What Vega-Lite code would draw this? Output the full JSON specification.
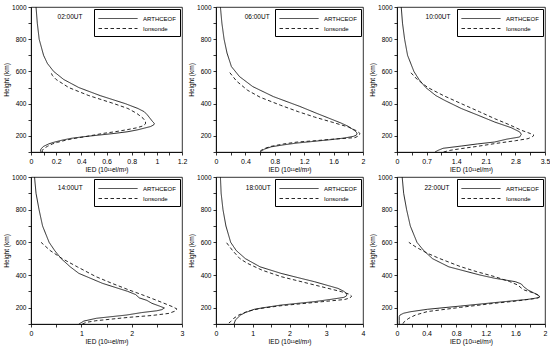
{
  "$schema": "https://vega.github.io/schema/vega-lite/v6.json",
  "padding": {"left": 3, "top": 3, "right": 3, "bottom": 2},
  "background": "white",
  "datasets": {
    "profiles": [
      {"p":1,"s":"ARTHCEOF","h":1000,"v":0.04},{"p":1,"s":"ARTHCEOF","h":900,"v":0.05},{"p":1,"s":"ARTHCEOF","h":800,"v":0.065},{"p":1,"s":"ARTHCEOF","h":700,"v":0.10},{"p":1,"s":"ARTHCEOF","h":650,"v":0.13},{"p":1,"s":"ARTHCEOF","h":600,"v":0.18},{"p":1,"s":"ARTHCEOF","h":550,"v":0.26},{"p":1,"s":"ARTHCEOF","h":500,"v":0.38},{"p":1,"s":"ARTHCEOF","h":450,"v":0.55},{"p":1,"s":"ARTHCEOF","h":400,"v":0.75},{"p":1,"s":"ARTHCEOF","h":370,"v":0.85},{"p":1,"s":"ARTHCEOF","h":350,"v":0.9},{"p":1,"s":"ARTHCEOF","h":330,"v":0.925},{"p":1,"s":"ARTHCEOF","h":310,"v":0.945},{"p":1,"s":"ARTHCEOF","h":290,"v":0.965},{"p":1,"s":"ARTHCEOF","h":278,"v":0.98},{"p":1,"s":"ARTHCEOF","h":268,"v":0.975},{"p":1,"s":"ARTHCEOF","h":258,"v":0.95},{"p":1,"s":"ARTHCEOF","h":248,"v":0.9},{"p":1,"s":"ARTHCEOF","h":238,"v":0.85},{"p":1,"s":"ARTHCEOF","h":226,"v":0.77},{"p":1,"s":"ARTHCEOF","h":215,"v":0.66},{"p":1,"s":"ARTHCEOF","h":205,"v":0.54},{"p":1,"s":"ARTHCEOF","h":195,"v":0.42},{"p":1,"s":"ARTHCEOF","h":185,"v":0.32},{"p":1,"s":"ARTHCEOF","h":174,"v":0.25},{"p":1,"s":"ARTHCEOF","h":160,"v":0.18},{"p":1,"s":"ARTHCEOF","h":150,"v":0.14},{"p":1,"s":"ARTHCEOF","h":135,"v":0.1},{"p":1,"s":"ARTHCEOF","h":120,"v":0.08},{"p":1,"s":"ARTHCEOF","h":110,"v":0.075},{"p":1,"s":"ARTHCEOF","h":100,"v":0.08},
      {"p":1,"s":"Ionsonde","h":600,"v":0.155},{"p":1,"s":"Ionsonde","h":575,"v":0.17},{"p":1,"s":"Ionsonde","h":550,"v":0.2},{"p":1,"s":"Ionsonde","h":500,"v":0.3},{"p":1,"s":"Ionsonde","h":450,"v":0.46},{"p":1,"s":"Ionsonde","h":400,"v":0.66},{"p":1,"s":"Ionsonde","h":370,"v":0.77},{"p":1,"s":"Ionsonde","h":340,"v":0.84},{"p":1,"s":"Ionsonde","h":310,"v":0.89},{"p":1,"s":"Ionsonde","h":290,"v":0.91},{"p":1,"s":"Ionsonde","h":275,"v":0.91},{"p":1,"s":"Ionsonde","h":262,"v":0.89},{"p":1,"s":"Ionsonde","h":250,"v":0.84},{"p":1,"s":"Ionsonde","h":238,"v":0.76},{"p":1,"s":"Ionsonde","h":226,"v":0.67},{"p":1,"s":"Ionsonde","h":215,"v":0.57},{"p":1,"s":"Ionsonde","h":205,"v":0.5},{"p":1,"s":"Ionsonde","h":195,"v":0.43},{"p":1,"s":"Ionsonde","h":185,"v":0.35},{"p":1,"s":"Ionsonde","h":174,"v":0.28},{"p":1,"s":"Ionsonde","h":160,"v":0.21},{"p":1,"s":"Ionsonde","h":150,"v":0.17},{"p":1,"s":"Ionsonde","h":135,"v":0.13},{"p":1,"s":"Ionsonde","h":120,"v":0.1},{"p":1,"s":"Ionsonde","h":110,"v":0.09},{"p":1,"s":"Ionsonde","h":100,"v":0.09},

      {"p":2,"s":"ARTHCEOF","h":1000,"v":0.06},{"p":2,"s":"ARTHCEOF","h":900,"v":0.08},{"p":2,"s":"ARTHCEOF","h":800,"v":0.11},{"p":2,"s":"ARTHCEOF","h":714,"v":0.15},{"p":2,"s":"ARTHCEOF","h":630,"v":0.21},{"p":2,"s":"ARTHCEOF","h":568,"v":0.32},{"p":2,"s":"ARTHCEOF","h":506,"v":0.5},{"p":2,"s":"ARTHCEOF","h":444,"v":0.78},{"p":2,"s":"ARTHCEOF","h":383,"v":1.14},{"p":2,"s":"ARTHCEOF","h":340,"v":1.37},{"p":2,"s":"ARTHCEOF","h":311,"v":1.53},{"p":2,"s":"ARTHCEOF","h":280,"v":1.7},{"p":2,"s":"ARTHCEOF","h":259,"v":1.8},{"p":2,"s":"ARTHCEOF","h":235,"v":1.88},{"p":2,"s":"ARTHCEOF","h":218,"v":1.92},{"p":2,"s":"ARTHCEOF","h":205,"v":1.91},{"p":2,"s":"ARTHCEOF","h":197,"v":1.87},{"p":2,"s":"ARTHCEOF","h":187,"v":1.75},{"p":2,"s":"ARTHCEOF","h":177,"v":1.57},{"p":2,"s":"ARTHCEOF","h":166,"v":1.33},{"p":2,"s":"ARTHCEOF","h":156,"v":1.11},{"p":2,"s":"ARTHCEOF","h":145,"v":0.93},{"p":2,"s":"ARTHCEOF","h":132,"v":0.75},{"p":2,"s":"ARTHCEOF","h":118,"v":0.66},{"p":2,"s":"ARTHCEOF","h":104,"v":0.61},{"p":2,"s":"ARTHCEOF","h":100,"v":0.6},
      {"p":2,"s":"Ionsonde","h":600,"v":0.175},{"p":2,"s":"Ionsonde","h":540,"v":0.28},{"p":2,"s":"Ionsonde","h":483,"v":0.43},{"p":2,"s":"Ionsonde","h":440,"v":0.6},{"p":2,"s":"Ionsonde","h":390,"v":0.88},{"p":2,"s":"Ionsonde","h":350,"v":1.12},{"p":2,"s":"Ionsonde","h":317,"v":1.34},{"p":2,"s":"Ionsonde","h":285,"v":1.58},{"p":2,"s":"Ionsonde","h":255,"v":1.8},{"p":2,"s":"Ionsonde","h":230,"v":1.92},{"p":2,"s":"Ionsonde","h":214,"v":1.96},{"p":2,"s":"Ionsonde","h":200,"v":1.94},{"p":2,"s":"Ionsonde","h":189,"v":1.89},{"p":2,"s":"Ionsonde","h":179,"v":1.57},{"p":2,"s":"Ionsonde","h":170,"v":1.35},{"p":2,"s":"Ionsonde","h":162,"v":1.11},{"p":2,"s":"Ionsonde","h":150,"v":0.92},{"p":2,"s":"Ionsonde","h":135,"v":0.75},{"p":2,"s":"Ionsonde","h":125,"v":0.68},{"p":2,"s":"Ionsonde","h":115,"v":0.63},{"p":2,"s":"Ionsonde","h":105,"v":0.6},

      {"p":3,"s":"ARTHCEOF","h":1000,"v":0.1},{"p":3,"s":"ARTHCEOF","h":900,"v":0.13},{"p":3,"s":"ARTHCEOF","h":800,"v":0.18},{"p":3,"s":"ARTHCEOF","h":700,"v":0.25},{"p":3,"s":"ARTHCEOF","h":600,"v":0.4},{"p":3,"s":"ARTHCEOF","h":550,"v":0.52},{"p":3,"s":"ARTHCEOF","h":500,"v":0.68},{"p":3,"s":"ARTHCEOF","h":450,"v":0.92},{"p":3,"s":"ARTHCEOF","h":420,"v":1.13},{"p":3,"s":"ARTHCEOF","h":370,"v":1.52},{"p":3,"s":"ARTHCEOF","h":330,"v":1.9},{"p":3,"s":"ARTHCEOF","h":286,"v":2.31},{"p":3,"s":"ARTHCEOF","h":251,"v":2.7},{"p":3,"s":"ARTHCEOF","h":225,"v":2.9},{"p":3,"s":"ARTHCEOF","h":210,"v":2.94},{"p":3,"s":"ARTHCEOF","h":193,"v":2.9},{"p":3,"s":"ARTHCEOF","h":180,"v":2.6},{"p":3,"s":"ARTHCEOF","h":162,"v":2.31},{"p":3,"s":"ARTHCEOF","h":150,"v":1.9},{"p":3,"s":"ARTHCEOF","h":137,"v":1.52},{"p":3,"s":"ARTHCEOF","h":123,"v":1.09},{"p":3,"s":"ARTHCEOF","h":110,"v":0.97},{"p":3,"s":"ARTHCEOF","h":100,"v":0.9},
      {"p":3,"s":"Ionsonde","h":600,"v":0.3},{"p":3,"s":"Ionsonde","h":550,"v":0.48},{"p":3,"s":"Ionsonde","h":500,"v":0.73},{"p":3,"s":"Ionsonde","h":450,"v":1.1},{"p":3,"s":"Ionsonde","h":400,"v":1.52},{"p":3,"s":"Ionsonde","h":350,"v":1.95},{"p":3,"s":"Ionsonde","h":307,"v":2.31},{"p":3,"s":"Ionsonde","h":270,"v":2.65},{"p":3,"s":"Ionsonde","h":235,"v":2.94},{"p":3,"s":"Ionsonde","h":215,"v":3.15},{"p":3,"s":"Ionsonde","h":204,"v":3.24},{"p":3,"s":"Ionsonde","h":195,"v":3.2},{"p":3,"s":"Ionsonde","h":183,"v":3.1},{"p":3,"s":"Ionsonde","h":170,"v":2.8},{"p":3,"s":"Ionsonde","h":152,"v":2.31},{"p":3,"s":"Ionsonde","h":135,"v":1.9},{"p":3,"s":"Ionsonde","h":121,"v":1.52},{"p":3,"s":"Ionsonde","h":110,"v":1.25},{"p":3,"s":"Ionsonde","h":100,"v":1.1},

      {"p":4,"s":"ARTHCEOF","h":1000,"v":0.07},{"p":4,"s":"ARTHCEOF","h":900,"v":0.1},{"p":4,"s":"ARTHCEOF","h":800,"v":0.16},{"p":4,"s":"ARTHCEOF","h":700,"v":0.23},{"p":4,"s":"ARTHCEOF","h":600,"v":0.36},{"p":4,"s":"ARTHCEOF","h":550,"v":0.47},{"p":4,"s":"ARTHCEOF","h":500,"v":0.6},{"p":4,"s":"ARTHCEOF","h":450,"v":0.78},{"p":4,"s":"ARTHCEOF","h":410,"v":0.95},{"p":4,"s":"ARTHCEOF","h":349,"v":1.42},{"p":4,"s":"ARTHCEOF","h":300,"v":1.92},{"p":4,"s":"ARTHCEOF","h":280,"v":2.08},{"p":4,"s":"ARTHCEOF","h":260,"v":2.15},{"p":4,"s":"ARTHCEOF","h":245,"v":2.3},{"p":4,"s":"ARTHCEOF","h":227,"v":2.4},{"p":4,"s":"ARTHCEOF","h":210,"v":2.55},{"p":4,"s":"ARTHCEOF","h":198,"v":2.65},{"p":4,"s":"ARTHCEOF","h":188,"v":2.6},{"p":4,"s":"ARTHCEOF","h":181,"v":2.5},{"p":4,"s":"ARTHCEOF","h":170,"v":2.2},{"p":4,"s":"ARTHCEOF","h":155,"v":1.9},{"p":4,"s":"ARTHCEOF","h":135,"v":1.3},{"p":4,"s":"ARTHCEOF","h":118,"v":1.05},{"p":4,"s":"ARTHCEOF","h":105,"v":0.98},{"p":4,"s":"ARTHCEOF","h":100,"v":0.95},
      {"p":4,"s":"Ionsonde","h":600,"v":0.2},{"p":4,"s":"Ionsonde","h":550,"v":0.38},{"p":4,"s":"Ionsonde","h":500,"v":0.62},{"p":4,"s":"Ionsonde","h":450,"v":0.92},{"p":4,"s":"Ionsonde","h":390,"v":1.29},{"p":4,"s":"Ionsonde","h":350,"v":1.6},{"p":4,"s":"Ionsonde","h":308,"v":1.95},{"p":4,"s":"Ionsonde","h":280,"v":2.2},{"p":4,"s":"Ionsonde","h":247,"v":2.48},{"p":4,"s":"Ionsonde","h":220,"v":2.7},{"p":4,"s":"Ionsonde","h":206,"v":2.81},{"p":4,"s":"Ionsonde","h":192,"v":2.9},{"p":4,"s":"Ionsonde","h":180,"v":2.87},{"p":4,"s":"Ionsonde","h":165,"v":2.74},{"p":4,"s":"Ionsonde","h":152,"v":2.4},{"p":4,"s":"Ionsonde","h":141,"v":1.95},{"p":4,"s":"Ionsonde","h":130,"v":1.6},{"p":4,"s":"Ionsonde","h":120,"v":1.29},{"p":4,"s":"Ionsonde","h":110,"v":1.1},{"p":4,"s":"Ionsonde","h":100,"v":1.02},

      {"p":5,"s":"ARTHCEOF","h":1000,"v":0.12},{"p":5,"s":"ARTHCEOF","h":900,"v":0.14},{"p":5,"s":"ARTHCEOF","h":800,"v":0.19},{"p":5,"s":"ARTHCEOF","h":700,"v":0.27},{"p":5,"s":"ARTHCEOF","h":600,"v":0.4},{"p":5,"s":"ARTHCEOF","h":550,"v":0.55},{"p":5,"s":"ARTHCEOF","h":500,"v":0.8},{"p":5,"s":"ARTHCEOF","h":450,"v":1.2},{"p":5,"s":"ARTHCEOF","h":410,"v":1.77},{"p":5,"s":"ARTHCEOF","h":380,"v":2.3},{"p":5,"s":"ARTHCEOF","h":359,"v":2.68},{"p":5,"s":"ARTHCEOF","h":318,"v":3.32},{"p":5,"s":"ARTHCEOF","h":300,"v":3.48},{"p":5,"s":"ARTHCEOF","h":285,"v":3.56},{"p":5,"s":"ARTHCEOF","h":272,"v":3.55},{"p":5,"s":"ARTHCEOF","h":263,"v":3.48},{"p":5,"s":"ARTHCEOF","h":250,"v":3.1},{"p":5,"s":"ARTHCEOF","h":237,"v":2.68},{"p":5,"s":"ARTHCEOF","h":216,"v":1.77},{"p":5,"s":"ARTHCEOF","h":200,"v":1.3},{"p":5,"s":"ARTHCEOF","h":190,"v":1.04},{"p":5,"s":"ARTHCEOF","h":170,"v":0.8},{"p":5,"s":"ARTHCEOF","h":155,"v":0.67},{"p":5,"s":"ARTHCEOF","h":125,"v":0.53},{"p":5,"s":"ARTHCEOF","h":100,"v":0.49},
      {"p":5,"s":"Ionsonde","h":600,"v":0.28},{"p":5,"s":"Ionsonde","h":550,"v":0.45},{"p":5,"s":"Ionsonde","h":500,"v":0.65},{"p":5,"s":"Ionsonde","h":472,"v":0.85},{"p":5,"s":"Ionsonde","h":430,"v":1.25},{"p":5,"s":"Ionsonde","h":390,"v":1.77},{"p":5,"s":"Ionsonde","h":339,"v":2.68},{"p":5,"s":"Ionsonde","h":298,"v":3.41},{"p":5,"s":"Ionsonde","h":283,"v":3.62},{"p":5,"s":"Ionsonde","h":271,"v":3.69},{"p":5,"s":"Ionsonde","h":260,"v":3.65},{"p":5,"s":"Ionsonde","h":250,"v":3.5},{"p":5,"s":"Ionsonde","h":232,"v":2.68},{"p":5,"s":"Ionsonde","h":212,"v":1.77},{"p":5,"s":"Ionsonde","h":195,"v":1.2},{"p":5,"s":"Ionsonde","h":177,"v":0.85},{"p":5,"s":"Ionsonde","h":155,"v":0.62},{"p":5,"s":"Ionsonde","h":136,"v":0.49},{"p":5,"s":"Ionsonde","h":115,"v":0.4},{"p":5,"s":"Ionsonde","h":106,"v":0.35},

      {"p":6,"s":"ARTHCEOF","h":1000,"v":0.07},{"p":6,"s":"ARTHCEOF","h":900,"v":0.09},{"p":6,"s":"ARTHCEOF","h":800,"v":0.13},{"p":6,"s":"ARTHCEOF","h":700,"v":0.18},{"p":6,"s":"ARTHCEOF","h":600,"v":0.27},{"p":6,"s":"ARTHCEOF","h":550,"v":0.36},{"p":6,"s":"ARTHCEOF","h":500,"v":0.48},{"p":6,"s":"ARTHCEOF","h":450,"v":0.7},{"p":6,"s":"ARTHCEOF","h":431,"v":0.86},{"p":6,"s":"ARTHCEOF","h":400,"v":1.12},{"p":6,"s":"ARTHCEOF","h":380,"v":1.32},{"p":6,"s":"ARTHCEOF","h":359,"v":1.6},{"p":6,"s":"ARTHCEOF","h":345,"v":1.68},{"p":6,"s":"ARTHCEOF","h":329,"v":1.71},{"p":6,"s":"ARTHCEOF","h":308,"v":1.77},{"p":6,"s":"ARTHCEOF","h":290,"v":1.85},{"p":6,"s":"ARTHCEOF","h":278,"v":1.9},{"p":6,"s":"ARTHCEOF","h":268,"v":1.93},{"p":6,"s":"ARTHCEOF","h":260,"v":1.9},{"p":6,"s":"ARTHCEOF","h":251,"v":1.77},{"p":6,"s":"ARTHCEOF","h":231,"v":1.32},{"p":6,"s":"ARTHCEOF","h":210,"v":0.86},{"p":6,"s":"ARTHCEOF","h":190,"v":0.41},{"p":6,"s":"ARTHCEOF","h":175,"v":0.18},{"p":6,"s":"ARTHCEOF","h":166,"v":0.09},{"p":6,"s":"ARTHCEOF","h":155,"v":0.04},{"p":6,"s":"ARTHCEOF","h":145,"v":0.03},{"p":6,"s":"ARTHCEOF","h":120,"v":0.03},{"p":6,"s":"ARTHCEOF","h":100,"v":0.03},
      {"p":6,"s":"Ionsonde","h":600,"v":0.16},{"p":6,"s":"Ionsonde","h":570,"v":0.26},{"p":6,"s":"Ionsonde","h":533,"v":0.41},{"p":6,"s":"Ionsonde","h":500,"v":0.58},{"p":6,"s":"Ionsonde","h":451,"v":0.86},{"p":6,"s":"Ionsonde","h":420,"v":1.08},{"p":6,"s":"Ionsonde","h":390,"v":1.32},{"p":6,"s":"Ionsonde","h":360,"v":1.52},{"p":6,"s":"Ionsonde","h":339,"v":1.63},{"p":6,"s":"Ionsonde","h":320,"v":1.68},{"p":6,"s":"Ionsonde","h":308,"v":1.72},{"p":6,"s":"Ionsonde","h":288,"v":1.86},{"p":6,"s":"Ionsonde","h":272,"v":1.93},{"p":6,"s":"Ionsonde","h":262,"v":1.92},{"p":6,"s":"Ionsonde","h":255,"v":1.85},{"p":6,"s":"Ionsonde","h":240,"v":1.6},{"p":6,"s":"Ionsonde","h":227,"v":1.32},{"p":6,"s":"Ionsonde","h":202,"v":0.86},{"p":6,"s":"Ionsonde","h":176,"v":0.41},{"p":6,"s":"Ionsonde","h":155,"v":0.25},{"p":6,"s":"Ionsonde","h":135,"v":0.16},{"p":6,"s":"Ionsonde","h":115,"v":0.1},{"p":6,"s":"Ionsonde","h":102,"v":0.08}
    ]
  },
  "data": {"name": "profiles"},
  "columns": 3,
  "bounds": "flush",
  "spacing": {"row": 25, "column": 34},
  "resolve": {"scale": {"x": "independent", "y": "independent", "strokeDash": "independent"}, "legend": {"strokeDash": "independent"}},
  "concat": [
    {"width": 151, "height": 145, "layer": [
      {"transform": [{"filter": "datum.p == 1"}], "mark": {"type": "line", "color": "#111", "strokeWidth": 0.9},
       "encoding": {
         "x": {"field": "v", "type": "quantitative", "scale": {"domain": [0, 1.2], "nice": false, "zero": false},
               "axis": {"title": "IED (10¹¹el/m³)", "values": [0,0.1,0.2,0.3,0.4,0.5,0.6,0.7,0.8,0.9,1.0,1.1,1.2], "labelExpr": "round(datum.value/0.1) % 2 == 0 ? format(datum.value, '~g') : ''"}},
         "y": {"field": "h", "type": "quantitative", "scale": {"domain": [100, 1000], "nice": false, "zero": false},
               "axis": {"title": "Height (km)", "values": [100,200,300,400,500,600,700,800,900,1000], "labelExpr": "datum.value % 200 == 0 ? format(datum.value, 'd') : ''"}},
         "strokeDash": {"field": "s", "type": "nominal", "scale": {"domain": ["ARTHCEOF", "Ionsonde"], "range": [[1, 0], [3.5, 2.5]]}},
         "order": {"field": "h", "type": "quantitative"}
       }},
      {"data": {"values": [{"t": "02:00UT"}]}, "mark": {"type": "text", "fontSize": 6.5, "font": "Liberation Sans", "color": "#000"},
       "encoding": {
         "x": {"datum": 0.31, "type": "quantitative", "scale": {"domain": [0, 1.2], "nice": false, "zero": false},
               "axis": {"title": "IED (10¹¹el/m³)", "values": [0,0.1,0.2,0.3,0.4,0.5,0.6,0.7,0.8,0.9,1.0,1.1,1.2], "labelExpr": "round(datum.value/0.1) % 2 == 0 ? format(datum.value, '~g') : ''"}},
         "y": {"datum": 938, "type": "quantitative", "scale": {"domain": [100, 1000], "nice": false, "zero": false},
               "axis": {"title": "Height (km)", "values": [100,200,300,400,500,600,700,800,900,1000], "labelExpr": "datum.value % 200 == 0 ? format(datum.value, 'd') : ''"}},
         "text": {"field": "t"}}}
    ]},
    {"width": 147, "height": 145, "layer": [
      {"transform": [{"filter": "datum.p == 2"}], "mark": {"type": "line", "color": "#111", "strokeWidth": 0.9},
       "encoding": {
         "x": {"field": "v", "type": "quantitative", "scale": {"domain": [0, 2], "nice": false, "zero": false},
               "axis": {"title": "IED (10¹¹el/m³)", "values": [0,0.2,0.4,0.6,0.8,1.0,1.2,1.4,1.6,1.8,2.0], "labelExpr": "round(datum.value/0.2) % 2 == 0 ? format(datum.value, '~g') : ''"}},
         "y": {"field": "h", "type": "quantitative", "scale": {"domain": [100, 1000], "nice": false, "zero": false},
               "axis": {"title": "Height (km)", "values": [100,200,300,400,500,600,700,800,900,1000], "labelExpr": "datum.value % 200 == 0 ? format(datum.value, 'd') : ''"}},
         "strokeDash": {"field": "s", "type": "nominal", "scale": {"domain": ["ARTHCEOF", "Ionsonde"], "range": [[1, 0], [3.5, 2.5]]}},
         "order": {"field": "h", "type": "quantitative"}
       }},
      {"data": {"values": [{"t": "06:00UT"}]}, "mark": {"type": "text", "fontSize": 6.5, "font": "Liberation Sans", "color": "#000"},
       "encoding": {
         "x": {"datum": 0.56, "type": "quantitative", "scale": {"domain": [0, 2], "nice": false, "zero": false},
               "axis": {"title": "IED (10¹¹el/m³)", "values": [0,0.2,0.4,0.6,0.8,1.0,1.2,1.4,1.6,1.8,2.0], "labelExpr": "round(datum.value/0.2) % 2 == 0 ? format(datum.value, '~g') : ''"}},
         "y": {"datum": 938, "type": "quantitative", "scale": {"domain": [100, 1000], "nice": false, "zero": false},
               "axis": {"title": "Height (km)", "values": [100,200,300,400,500,600,700,800,900,1000], "labelExpr": "datum.value % 200 == 0 ? format(datum.value, 'd') : ''"}},
         "text": {"field": "t"}}}
    ]},
    {"width": 148, "height": 145, "layer": [
      {"transform": [{"filter": "datum.p == 3"}], "mark": {"type": "line", "color": "#111", "strokeWidth": 0.9},
       "encoding": {
         "x": {"field": "v", "type": "quantitative", "scale": {"domain": [0, 3.5], "nice": false, "zero": false},
               "axis": {"title": "IED (10¹¹el/m³)", "values": [0,0.35,0.7,1.05,1.4,1.75,2.1,2.45,2.8,3.15,3.5], "labelExpr": "round(datum.value/0.35) % 2 == 0 ? format(datum.value, '~g') : ''"}},
         "y": {"field": "h", "type": "quantitative", "scale": {"domain": [100, 1000], "nice": false, "zero": false},
               "axis": {"title": "Height (km)", "values": [100,200,300,400,500,600,700,800,900,1000], "labelExpr": "datum.value % 200 == 0 ? format(datum.value, 'd') : ''"}},
         "strokeDash": {"field": "s", "type": "nominal", "scale": {"domain": ["ARTHCEOF", "Ionsonde"], "range": [[1, 0], [3.5, 2.5]]}},
         "order": {"field": "h", "type": "quantitative"}
       }},
      {"data": {"values": [{"t": "10:00UT"}]}, "mark": {"type": "text", "fontSize": 6.5, "font": "Liberation Sans", "color": "#000"},
       "encoding": {
         "x": {"datum": 0.97, "type": "quantitative", "scale": {"domain": [0, 3.5], "nice": false, "zero": false},
               "axis": {"title": "IED (10¹¹el/m³)", "values": [0,0.35,0.7,1.05,1.4,1.75,2.1,2.45,2.8,3.15,3.5], "labelExpr": "round(datum.value/0.35) % 2 == 0 ? format(datum.value, '~g') : ''"}},
         "y": {"datum": 938, "type": "quantitative", "scale": {"domain": [100, 1000], "nice": false, "zero": false},
               "axis": {"title": "Height (km)", "values": [100,200,300,400,500,600,700,800,900,1000], "labelExpr": "datum.value % 200 == 0 ? format(datum.value, 'd') : ''"}},
         "text": {"field": "t"}}}
    ]},
    {"width": 151, "height": 147, "layer": [
      {"transform": [{"filter": "datum.p == 4"}], "mark": {"type": "line", "color": "#111", "strokeWidth": 0.9},
       "encoding": {
         "x": {"field": "v", "type": "quantitative", "scale": {"domain": [0, 3], "nice": false, "zero": false},
               "axis": {"title": "IED (10¹¹el/m³)", "values": [0,0.5,1,1.5,2,2.5,3], "labelExpr": "round(datum.value/0.5) % 2 == 0 ? format(datum.value, '~g') : ''"}},
         "y": {"field": "h", "type": "quantitative", "scale": {"domain": [100, 1000], "nice": false, "zero": false},
               "axis": {"title": "Height (km)", "values": [100,200,300,400,500,600,700,800,900,1000], "labelExpr": "datum.value % 200 == 0 ? format(datum.value, 'd') : ''"}},
         "strokeDash": {"field": "s", "type": "nominal", "scale": {"domain": ["ARTHCEOF", "Ionsonde"], "range": [[1, 0], [3.5, 2.5]]}},
         "order": {"field": "h", "type": "quantitative"}
       }},
      {"data": {"values": [{"t": "14:00UT"}]}, "mark": {"type": "text", "fontSize": 6.5, "font": "Liberation Sans", "color": "#000"},
       "encoding": {
         "x": {"datum": 0.78, "type": "quantitative", "scale": {"domain": [0, 3], "nice": false, "zero": false},
               "axis": {"title": "IED (10¹¹el/m³)", "values": [0,0.5,1,1.5,2,2.5,3], "labelExpr": "round(datum.value/0.5) % 2 == 0 ? format(datum.value, '~g') : ''"}},
         "y": {"datum": 934, "type": "quantitative", "scale": {"domain": [100, 1000], "nice": false, "zero": false},
               "axis": {"title": "Height (km)", "values": [100,200,300,400,500,600,700,800,900,1000], "labelExpr": "datum.value % 200 == 0 ? format(datum.value, 'd') : ''"}},
         "text": {"field": "t"}}}
    ]},
    {"width": 147, "height": 147, "layer": [
      {"transform": [{"filter": "datum.p == 5"}], "mark": {"type": "line", "color": "#111", "strokeWidth": 0.9},
       "encoding": {
         "x": {"field": "v", "type": "quantitative", "scale": {"domain": [0, 4], "nice": false, "zero": false},
               "axis": {"title": "IED (10¹¹el/m³)", "values": [0,0.5,1,1.5,2,2.5,3,3.5,4], "labelExpr": "round(datum.value/0.5) % 2 == 0 ? format(datum.value, '~g') : ''"}},
         "y": {"field": "h", "type": "quantitative", "scale": {"domain": [100, 1000], "nice": false, "zero": false},
               "axis": {"title": "Height (km)", "values": [100,200,300,400,500,600,700,800,900,1000], "labelExpr": "datum.value % 200 == 0 ? format(datum.value, 'd') : ''"}},
         "strokeDash": {"field": "s", "type": "nominal", "scale": {"domain": ["ARTHCEOF", "Ionsonde"], "range": [[1, 0], [3.5, 2.5]]}},
         "order": {"field": "h", "type": "quantitative"}
       }},
      {"data": {"values": [{"t": "18:00UT"}]}, "mark": {"type": "text", "fontSize": 6.5, "font": "Liberation Sans", "color": "#000"},
       "encoding": {
         "x": {"datum": 1.15, "type": "quantitative", "scale": {"domain": [0, 4], "nice": false, "zero": false},
               "axis": {"title": "IED (10¹¹el/m³)", "values": [0,0.5,1,1.5,2,2.5,3,3.5,4], "labelExpr": "round(datum.value/0.5) % 2 == 0 ? format(datum.value, '~g') : ''"}},
         "y": {"datum": 934, "type": "quantitative", "scale": {"domain": [100, 1000], "nice": false, "zero": false},
               "axis": {"title": "Height (km)", "values": [100,200,300,400,500,600,700,800,900,1000], "labelExpr": "datum.value % 200 == 0 ? format(datum.value, 'd') : ''"}},
         "text": {"field": "t"}}}
    ]},
    {"width": 148, "height": 147, "layer": [
      {"transform": [{"filter": "datum.p == 6"}], "mark": {"type": "line", "color": "#111", "strokeWidth": 0.9},
       "encoding": {
         "x": {"field": "v", "type": "quantitative", "scale": {"domain": [0, 2], "nice": false, "zero": false},
               "axis": {"title": "IED (10¹¹el/m³)", "values": [0,0.2,0.4,0.6,0.8,1.0,1.2,1.4,1.6,1.8,2.0], "labelExpr": "round(datum.value/0.2) % 2 == 0 ? format(datum.value, '~g') : ''"}},
         "y": {"field": "h", "type": "quantitative", "scale": {"domain": [100, 1000], "nice": false, "zero": false},
               "axis": {"title": "Height (km)", "values": [100,200,300,400,500,600,700,800,900,1000], "labelExpr": "datum.value % 200 == 0 ? format(datum.value, 'd') : ''"}},
         "strokeDash": {"field": "s", "type": "nominal", "scale": {"domain": ["ARTHCEOF", "Ionsonde"], "range": [[1, 0], [3.5, 2.5]]}},
         "order": {"field": "h", "type": "quantitative"}
       }},
      {"data": {"values": [{"t": "22:00UT"}]}, "mark": {"type": "text", "fontSize": 6.5, "font": "Liberation Sans", "color": "#000"},
       "encoding": {
         "x": {"datum": 0.54, "type": "quantitative", "scale": {"domain": [0, 2], "nice": false, "zero": false},
               "axis": {"title": "IED (10¹¹el/m³)", "values": [0,0.2,0.4,0.6,0.8,1.0,1.2,1.4,1.6,1.8,2.0], "labelExpr": "round(datum.value/0.2) % 2 == 0 ? format(datum.value, '~g') : ''"}},
         "y": {"datum": 934, "type": "quantitative", "scale": {"domain": [100, 1000], "nice": false, "zero": false},
               "axis": {"title": "Height (km)", "values": [100,200,300,400,500,600,700,800,900,1000], "labelExpr": "datum.value % 200 == 0 ? format(datum.value, 'd') : ''"}},
         "text": {"field": "t"}}}
    ]}
  ],
  "config": {
    "view": {"stroke": "#000", "strokeWidth": 0.8},
    "font": "Liberation Sans",
    "axis": {"grid": false, "domainColor": "#000", "domainWidth": 0.8, "tickColor": "#000", "tickWidth": 0.8, "tickSize": 3, "labelColor": "#000", "titleColor": "#000", "labelFont": "Liberation Sans", "titleFont": "Liberation Sans", "labelFontSize": 7, "titleFontSize": 6.5, "titleFontWeight": "normal", "labelFlush": false, "labelPadding": 2, "titlePadding": 2, "labelOverlap": false},
    "axisY": {"labelFontSize": 6.5},
    "legend": {"orient": "top-right", "offset": 2, "title": null, "strokeColor": "#000", "fillColor": "#fff", "padding": 4, "symbolType": "M-1,0H6.8", "symbolSize": 100, "symbolFillColor": "transparent", "symbolStrokeColor": "#111", "symbolStrokeWidth": 0.9, "labelFont": "Liberation Sans", "labelFontSize": 6, "labelColor": "#000", "rowPadding": 1, "labelOffset": 34}
  }
}
